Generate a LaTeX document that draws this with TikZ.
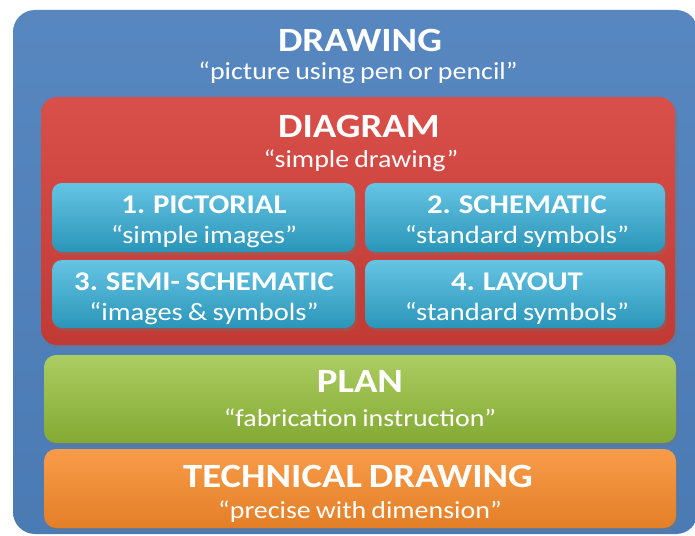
\documentclass[tikz,border=0pt]{standalone}
\usepackage{fontspec}
\setmainfont{Carlito}[FakeStretch=1.14, WordSpace=0.8]
\usetikzlibrary{positioning}
\definecolor{drawblue}{RGB}{79, 129, 189}
\definecolor{diagred}{RGB}{214, 64, 58}
\definecolor{kindcyan}{RGB}{50, 176, 218}
\definecolor{plangreen}{RGB}{150, 192, 58}
\definecolor{techorange}{RGB}{247, 138, 42}

\begin{document}
\begin{tikzpicture}[
    x=1pt, y=-1pt,
    panel/.style={rounded corners=#1},
    shadow/.style={fill=black!55, opacity=0.35},
    bigtitle/.style={font=\fontsize{34}{34}\selectfont\bfseries, text=white, anchor=base, inner sep=0},
    bigsub/.style={font=\fontsize{24.5}{24.5}\selectfont, text=white, anchor=base, inner sep=0},
    smalltitle/.style={font=\fontsize{27}{27}\selectfont\bfseries, text=white, anchor=base, inner sep=0},
    smallsub/.style={font=\fontsize{25}{25}\selectfont, text=white, anchor=base, inner sep=0}
  ]
  \useasboundingbox (0,0) rectangle (695,535);

  % DRAWING
  \shade[panel=22, top color=drawblue!95!white, bottom color=drawblue!95!black] (13,10) rectangle (698,534);
  \node[bigtitle] (drawing) at (360,52) {DRAWING};
  \node[bigsub] (drawingsub) at (358,79) {“picture using pen or pencil”};

  % DIAGRAM
  \fill[shadow, panel=16] (43,100) rectangle (678,348);
  \shade[panel=16, top color=diagred!92!white, bottom color=diagred!90!black] (41,97) rectangle (675,345);
  \node[bigtitle] (diagram) at (359,137) {DIAGRAM};
  \node[bigsub] (diagramsub) at (361,167) {“simple drawing”};

  % 1. PICTORIAL
  \fill[shadow, panel=10] (54,185) rectangle (357,255);
  \shade[panel=10, top color=kindcyan!75!white, bottom color=kindcyan!85!black] (52,183) rectangle (355,252);
  \node[smalltitle] (pictorial) at (204,213) {1. PICTORIAL};
  \node[smallsub] (pictorialsub) at (204,243) {“simple images”};

  % 2. SCHEMATIC
  \fill[shadow, panel=10] (367,185) rectangle (667,255);
  \shade[panel=10, top color=kindcyan!75!white, bottom color=kindcyan!85!black] (365,183) rectangle (665,252);
  \node[smalltitle] (schematic) at (517,213) {2. SCHEMATIC};
  \node[smallsub] (schematicsub) at (517,243) {“standard symbols”};

  % 3. SEMI- SCHEMATIC
  \fill[shadow, panel=10] (54,262) rectangle (357,331);
  \shade[panel=10, top color=kindcyan!75!white, bottom color=kindcyan!85!black] (52,260) rectangle (355,328);
  \node[smalltitle] (semischematic) at (204,290) {3. SEMI- SCHEMATIC};
  \node[smallsub] (semischematicsub) at (204,320) {“images \& symbols”};

  % 4. LAYOUT
  \fill[shadow, panel=10] (367,262) rectangle (667,331);
  \shade[panel=10, top color=kindcyan!75!white, bottom color=kindcyan!85!black] (365,260) rectangle (665,328);
  \node[smalltitle] (layout) at (517,290) {4. LAYOUT};
  \node[smallsub] (layoutsub) at (517,320) {“standard symbols”};

  % PLAN
  \fill[shadow, panel=12] (46,358) rectangle (678,446);
  \shade[panel=12, top color=plangreen!80!white, bottom color=plangreen!88!black] (44,355) rectangle (676,443);
  \node[bigtitle] (plan) at (360,392) {PLAN};
  \node[bigsub] (plansub) at (360,426) {“fabrication instruction”};

  % TECHNICAL DRAWING
  \fill[shadow, panel=12] (46,452) rectangle (678,531);
  \shade[panel=12, top color=techorange!85!white, bottom color=techorange!92!black] (44,449) rectangle (676,528);
  \node[bigtitle] (technical) at (358,487) {TECHNICAL DRAWING};
  \node[bigsub] (technicalsub) at (360,518) {“precise with dimension”};
\end{tikzpicture}
\end{document}
